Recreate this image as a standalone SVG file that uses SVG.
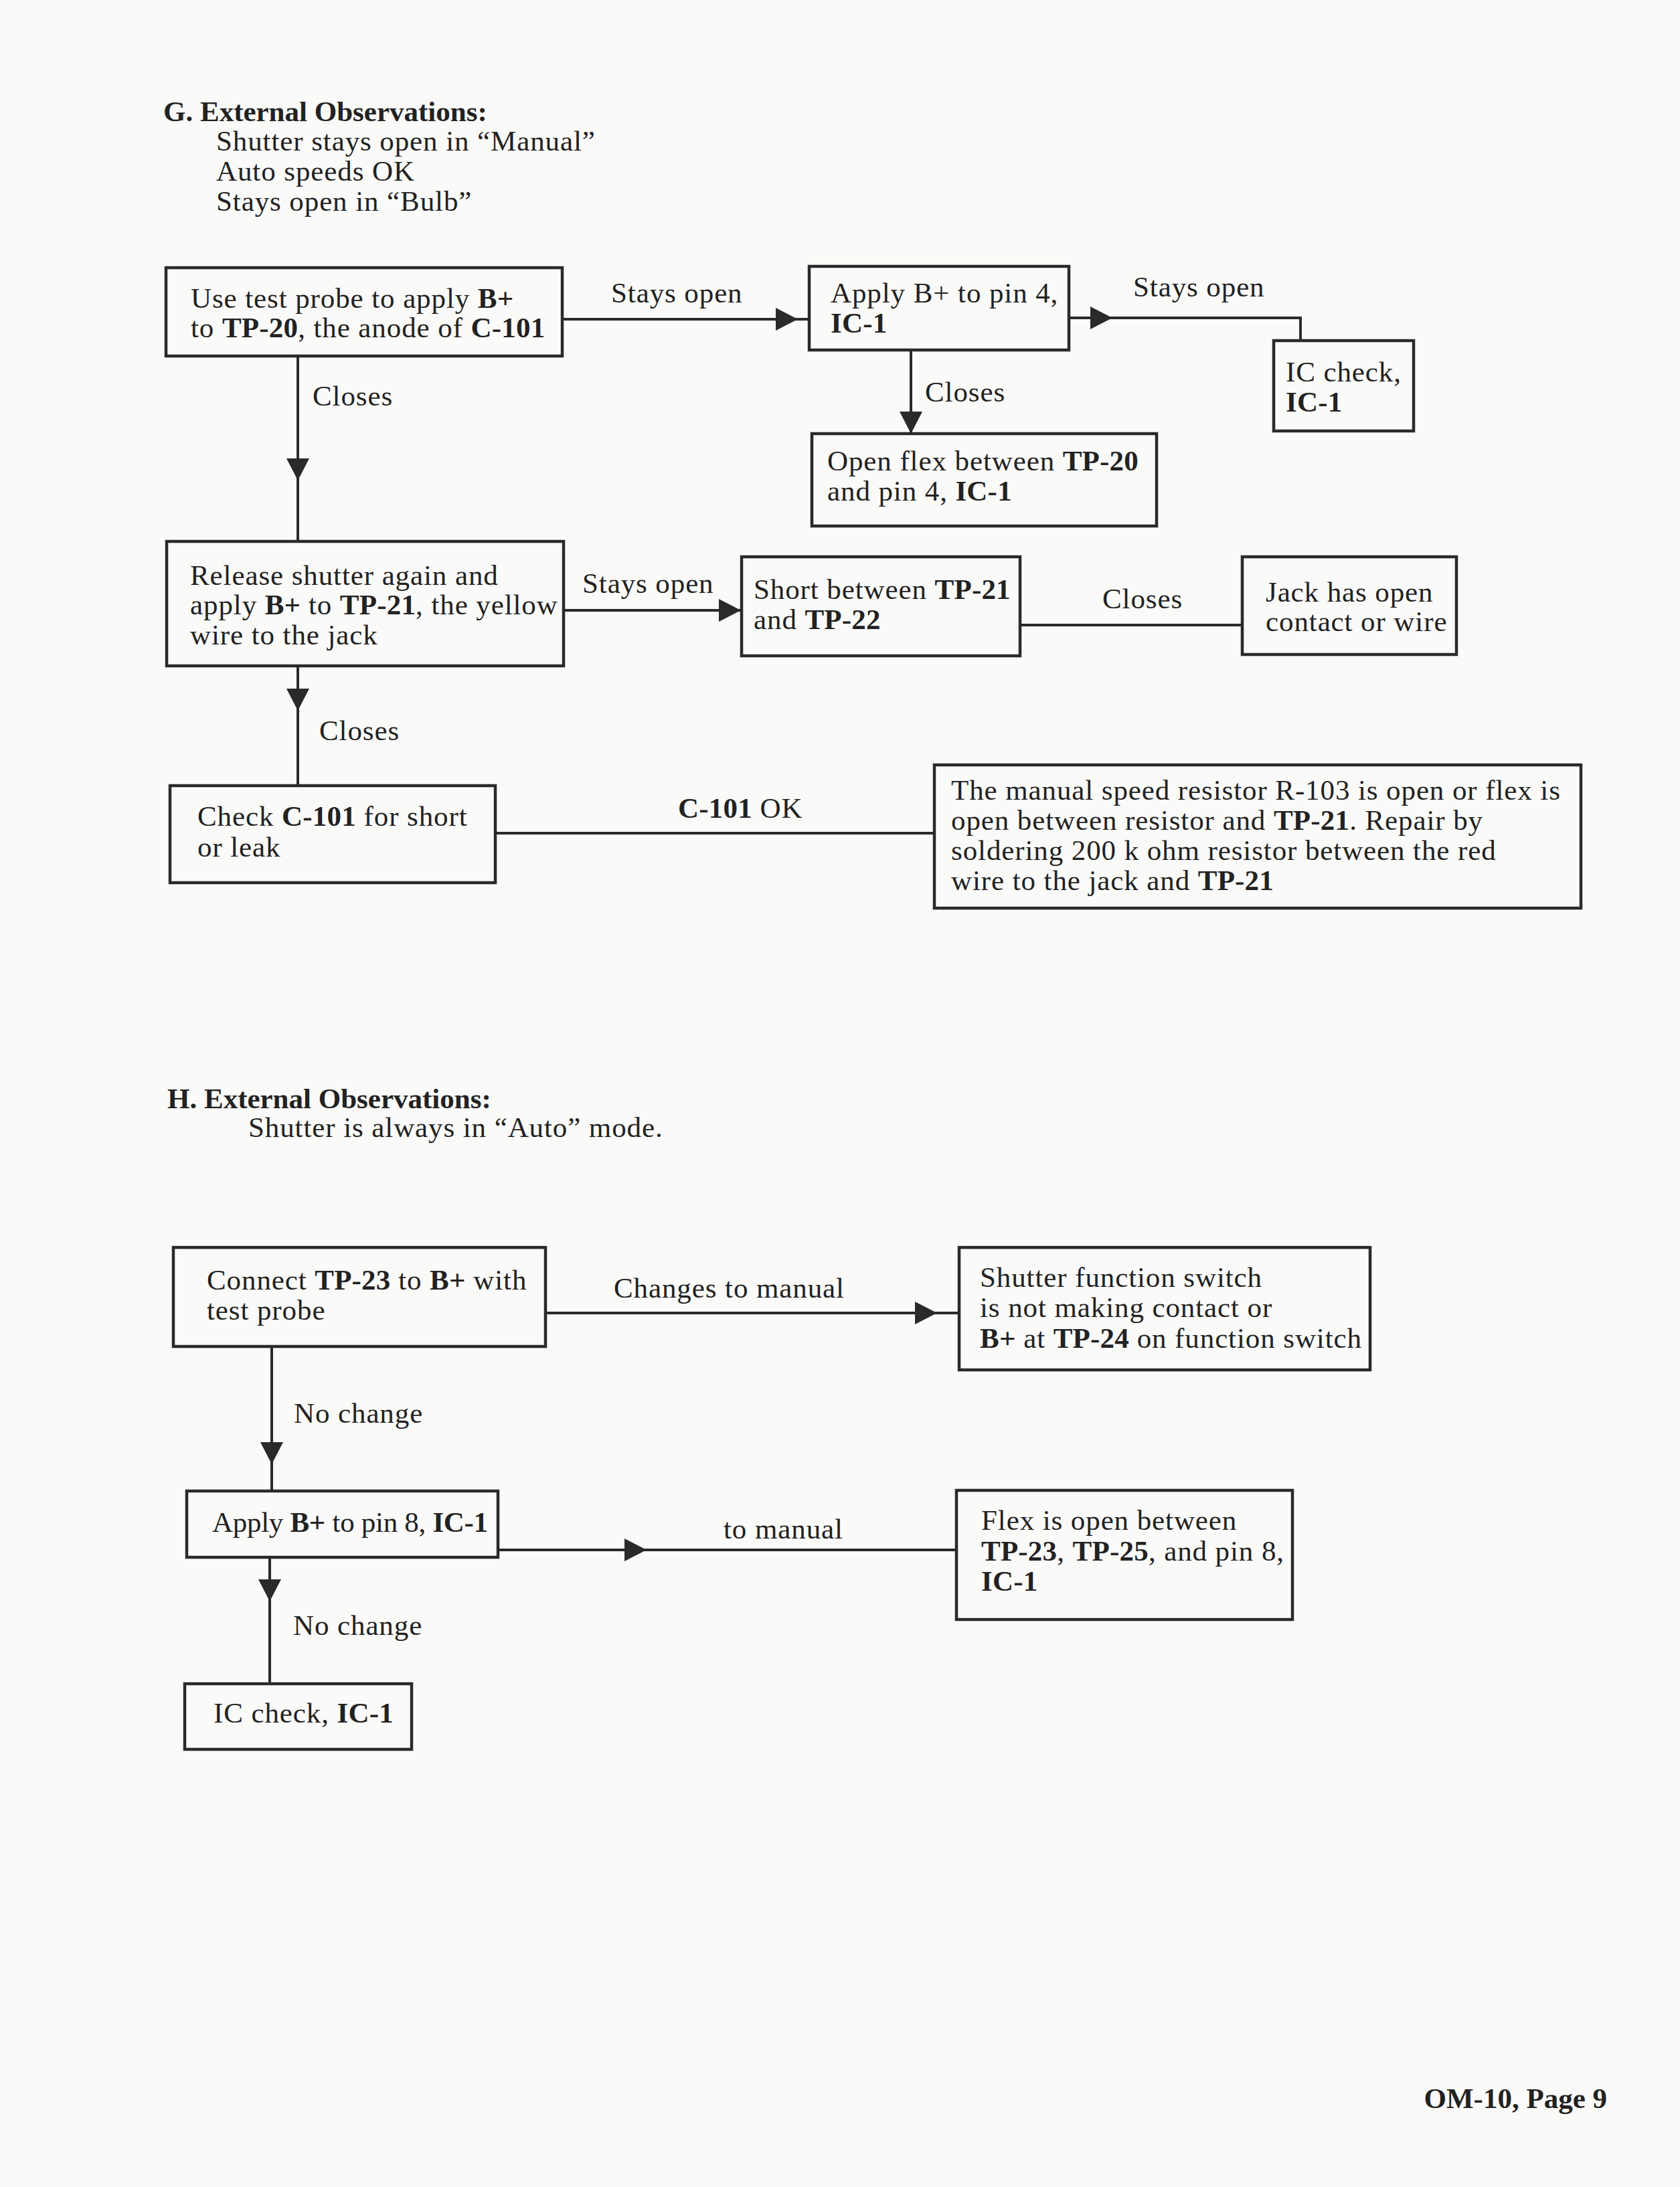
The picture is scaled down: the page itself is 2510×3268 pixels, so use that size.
<svg xmlns="http://www.w3.org/2000/svg" xmlns:xlink="http://www.w3.org/1999/xlink" width="2510" height="3268" viewBox="0 0 2510 3268">
<style>
text{font-family:"Liberation Serif","Times New Roman",serif;font-size:43px;fill:#222;letter-spacing:0.9px}
.b{font-weight:bold;letter-spacing:0.2px}
.hd{font-weight:bold;letter-spacing:0}
.box{fill:none;stroke:#2a2a2a;stroke-width:4.5}
.ln{fill:none;stroke:#2a2a2a;stroke-width:4}
.ah{fill:#2a2a2a}
</style>
<defs>
<path id="ah" d="M0,0 L-33,-17 L-33,17 Z"/>
</defs>
<rect width="2510" height="3268" fill="#fafaf8"/>

<g id="header-g">
<text x="244" y="181" class="hd">G.  External Observations:</text>
<text x="323" y="225">Shutter stays open in “Manual”</text>
<text x="323" y="270">Auto speeds OK</text>
<text x="323" y="315">Stays open in “Bulb”</text>
</g>

<g id="connectors">
<polyline class="ln" points="840,477 1209,477"/>
<polyline class="ln" points="1597,475 1943,475 1943,509"/>
<polyline class="ln" points="1361,523 1361,648"/>
<polyline class="ln" points="445,532 445,809"/>
<polyline class="ln" points="842,912 1107,912"/>
<polyline class="ln" points="1524,934 1856,934"/>
<polyline class="ln" points="445,995 445,1174"/>
<polyline class="ln" points="740,1245 1395,1245"/>
<polyline class="ln" points="815,1962 1432,1962"/>
<polyline class="ln" points="406,2012 406,2228"/>
<polyline class="ln" points="744,2316 1428,2316"/>
<polyline class="ln" points="403,2327 403,2516"/>
<use xlink:href="#ah" class="ah" transform="translate(1192,477)"/>
<use xlink:href="#ah" class="ah" transform="translate(1662,475)"/>
<use xlink:href="#ah" class="ah" transform="translate(1361,648) rotate(90)"/>
<use xlink:href="#ah" class="ah" transform="translate(445,718) rotate(90)"/>
<use xlink:href="#ah" class="ah" transform="translate(1107,912)"/>
<use xlink:href="#ah" class="ah" transform="translate(445,1062) rotate(90)"/>
<use xlink:href="#ah" class="ah" transform="translate(1400,1962)"/>
<use xlink:href="#ah" class="ah" transform="translate(406,2188) rotate(90)"/>
<use xlink:href="#ah" class="ah" transform="translate(966,2316)"/>
<use xlink:href="#ah" class="ah" transform="translate(403,2393) rotate(90)"/>
<text x="913" y="452">Stays open</text>
<text x="1693" y="443">Stays open</text>
<text x="1382" y="600">Closes</text>
<text x="467" y="606">Closes</text>
<text x="870" y="886">Stays open</text>
<text x="1647" y="909">Closes</text>
<text x="477" y="1106">Closes</text>
<text x="1013" y="1222"><tspan class="b">C-101</tspan> OK</text>
<text x="917" y="1939">Changes to manual</text>
<text x="439" y="2126">No change</text>
<text x="1081" y="2299">to manual</text>
<text x="438" y="2443">No change</text>
</g>

<g id="node-a">
<rect class="box" x="248" y="400" width="592" height="132"/>
<text x="285" y="460">Use test probe to apply <tspan class="b">B+</tspan></text>
<text x="285" y="504">to <tspan class="b">TP-20</tspan>, the anode of <tspan class="b">C-101</tspan></text>
</g>
<g id="node-b">
<rect class="box" x="1209" y="398" width="388" height="125"/>
<text x="1241" y="452">Apply B+ to pin 4,</text>
<text x="1241" y="497" class="b">IC-1</text>
</g>
<g id="node-c">
<rect class="box" x="1213" y="648" width="515" height="138"/>
<text x="1236" y="703">Open flex between <tspan class="b">TP-20</tspan></text>
<text x="1236" y="748">and pin 4, <tspan class="b">IC-1</tspan></text>
</g>
<g id="node-d">
<rect class="box" x="1903" y="509" width="209" height="135"/>
<text x="1921" y="570">IC check,</text>
<text x="1921" y="615" class="b">IC-1</text>
</g>
<g id="node-e">
<rect class="box" x="249" y="809" width="593" height="186"/>
<text x="284" y="874">Release shutter again and</text>
<text x="284" y="918">apply <tspan class="b">B+</tspan> to <tspan class="b">TP-21</tspan>, the yellow</text>
<text x="284" y="963">wire to the jack</text>
</g>
<g id="node-f">
<rect class="box" x="1108" y="832" width="416" height="148"/>
<text x="1126" y="895">Short between <tspan class="b">TP-21</tspan></text>
<text x="1126" y="940">and <tspan class="b">TP-22</tspan></text>
</g>
<g id="node-g">
<rect class="box" x="1856" y="832" width="320" height="146"/>
<text x="1891" y="899">Jack has open</text>
<text x="1891" y="943">contact or wire</text>
</g>
<g id="node-h">
<rect class="box" x="254" y="1174" width="486" height="145"/>
<text x="295" y="1234">Check <tspan class="b">C-101</tspan> for short</text>
<text x="295" y="1280">or leak</text>
</g>
<g id="node-i">
<rect class="box" x="1396" y="1143" width="966" height="214"/>
<text x="1421" y="1195">The manual speed resistor R-103 is open or flex is</text>
<text x="1421" y="1240">open between resistor and <tspan class="b">TP-21</tspan>. Repair by</text>
<text x="1421" y="1285">soldering 200 k ohm resistor between the red</text>
<text x="1421" y="1330">wire to the jack and <tspan class="b">TP-21</tspan></text>
</g>

<g id="header-h">
<text x="250" y="1656" class="hd">H.  External Observations:</text>
<text x="371" y="1699">Shutter is always in “Auto” mode.</text>
</g>

<g id="node-j">
<rect class="box" x="259" y="1864" width="556" height="148"/>
<text x="309" y="1927">Connect <tspan class="b">TP-23</tspan> to <tspan class="b">B+</tspan> with</text>
<text x="309" y="1972">test probe</text>
</g>
<g id="node-k">
<rect class="box" x="1433" y="1864" width="614" height="183"/>
<text x="1464" y="1923">Shutter function switch</text>
<text x="1464" y="1968">is not making contact or</text>
<text x="1464" y="2014"><tspan class="b">B+</tspan> at <tspan class="b">TP-24</tspan> on function switch</text>
</g>
<g id="node-l">
<rect class="box" x="279" y="2228" width="465" height="99"/>
<text x="317" y="2289" style="letter-spacing:-0.3px">Apply <tspan class="b" style="letter-spacing:-0.3px">B+</tspan> to pin 8, <tspan class="b" style="letter-spacing:-0.3px">IC-1</tspan></text>
</g>
<g id="node-m">
<rect class="box" x="1429" y="2227" width="502" height="193"/>
<text x="1466" y="2286">Flex is open between</text>
<text x="1466" y="2332"><tspan class="b">TP-23</tspan>, <tspan class="b">TP-25</tspan>, and pin 8,</text>
<text x="1466" y="2377" class="b">IC-1</text>
</g>
<g id="node-n">
<rect class="box" x="276" y="2516" width="339" height="98"/>
<text x="319" y="2574">IC check, <tspan class="b">IC-1</tspan></text>
</g>

<g id="footer">
<text x="2401" y="3150" class="hd" text-anchor="end">OM-10, Page 9</text>
</g>
</svg>
